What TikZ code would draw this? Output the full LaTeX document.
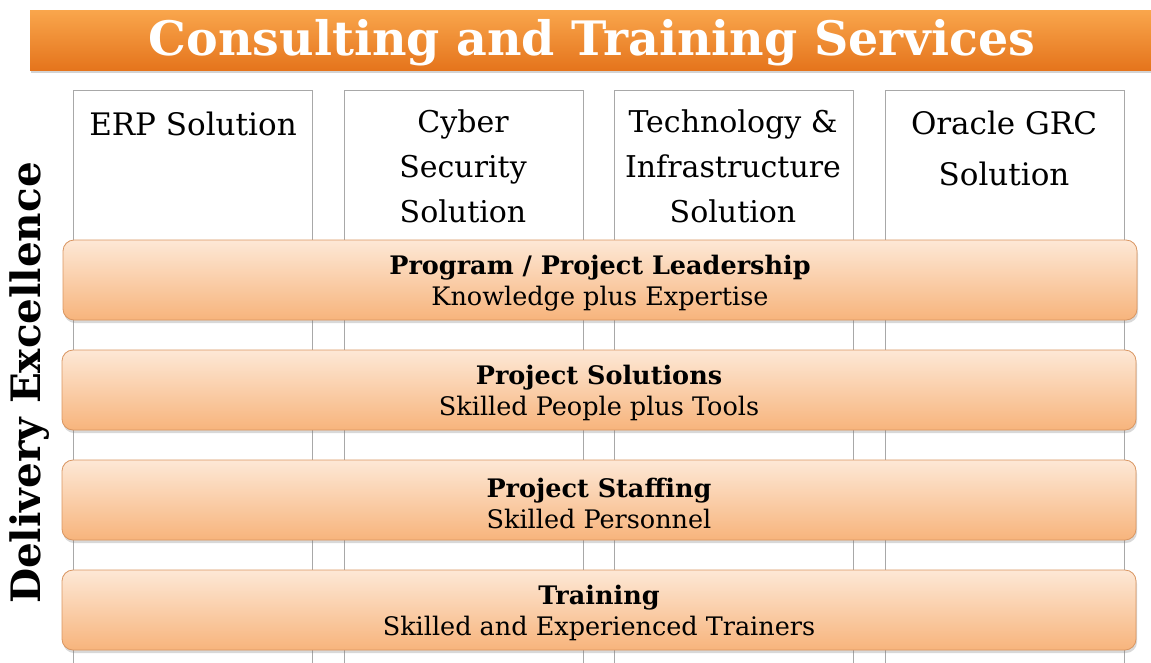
\documentclass[tikz,border=0pt]{standalone}
\usepackage{fontspec}
\setmainfont{DejaVu Serif}
\usetikzlibrary{shadows}
\definecolor{banTop}{HTML}{F9A64C}
\definecolor{banBot}{HTML}{E5741C}
\definecolor{barTop}{HTML}{FDE8D6}
\definecolor{barBot}{HTML}{F7B47C}
\definecolor{barEdge}{HTML}{D99560}
\definecolor{colEdge}{HTML}{A8A8A8}
\tikzset{
  banner/.style={draw=none, top color=banTop, bottom color=banBot, minimum width=1125pt, minimum height=60pt, inner sep=0pt,
    drop shadow={opacity=0.35, shadow xshift=1pt, shadow yshift=-3pt}},
  coltext/.style={font=\fontsize{30}{45}\selectfont, align=center, anchor=north, inner sep=0pt},
  colbox/.style={draw=colEdge, line width=1pt, fill=white, minimum width=239pt, minimum height=590pt, anchor=north west, inner sep=0pt},
  barbox/.style={draw=barEdge, line width=0.8pt, rounded corners=11pt, top color=barTop, bottom color=barBot,
    minimum width=1074pt, minimum height=80pt, inner sep=0pt,
    drop shadow={opacity=0.3, shadow xshift=1pt, shadow yshift=-3pt}},
  bartext/.style={align=center, inner sep=0pt, font=\fontsize{25.5}{31}\selectfont, yshift=-3pt},
}
\begin{document}
\begin{tikzpicture}[x=1pt,y=-1pt]
\useasboundingbox (0,0) rectangle (1151,662);
% banner
\node[banner, anchor=north west] (ban) at (30,10) {};
\node[text=white, font=\fontsize{47.5}{52}\bfseries\selectfont] (title) at (592,43) {Consulting and Training Services};
% columns
\node[colbox] (c1) at (73,90) {};
\node[colbox] (c2) at (344,90) {};
\node[colbox] (c3) at (614,90) {};
\node[colbox] (c4) at (885,90) {};
\node[coltext, font=\fontsize{31}{45}\selectfont] (t1) at (193,112) {ERP Solution};
\node[coltext] (t2) at (463,110) {Cyber\\Security\\Solution};
\node[coltext] (t3) at (733,110) {Technology \&\\Infrastructure\\Solution};
\node[coltext, font=\fontsize{31}{51}\selectfont] (t4) at (1004,111) {Oracle GRC\\Solution};
% bars
\node[barbox] (b1) at (600,280) {};
\node[barbox] (b2) at (599,390) {};
\node[barbox] (b3) at (599,500) {};
\node[barbox] (b4) at (599,610) {};
\node[bartext] (l1) at (b1) {\textbf{Program / Project Leadership}\\Knowledge plus Expertise};
\node[bartext] (l2) at (b2) {\textbf{Project Solutions}\\Skilled People plus Tools};
\node[bartext] (l3) at (b3) {\textbf{Project Staffing}\\Skilled Personnel};
\node[bartext] (l4) at (b4) {\textbf{Training}\\Skilled and Experienced Trainers};
% side label
\node[rotate=90, font=\fontsize{40.5}{42}\bfseries\selectfont] (side) at (30,383) {Delivery Excellence};
\end{tikzpicture}
\end{document}
